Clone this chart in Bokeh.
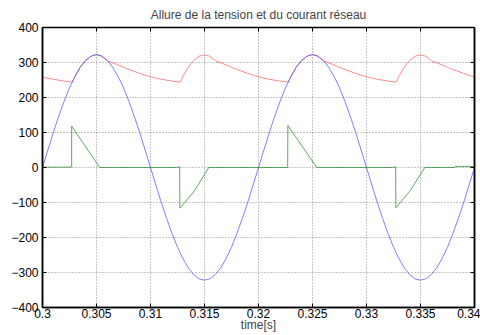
from bokeh.plotting import figure
from bokeh.models import LinearAxis, FixedTicker, Range1d, CustomJSTickFormatter
from bokeh.embed import file_html
from bokeh.resources import INLINE
import numpy as np

# Mains voltage (blue), sampled every 0.5 ms from 0.300 s to 0.340 s
t_grid = np.round(np.linspace(0.300, 0.340, 81), 5)
v_mains = [0, 50, 100, 146, 189, 228, 260, 287, 306, 318, 323, 318, 306, 287, 260, 228, 189, 146, 100, 50,
           0, -50, -100, -146, -189, -228, -260, -287, -306, -318, -322, -318, -306, -287, -260, -228, -189, -146, -100, -50,
           0, 50, 100, 146, 189, 228, 260, 287, 306, 318, 323, 318, 306, 287, 260, 228, 189, 146, 100, 50,
           0, -50, -100, -146, -189, -228, -260, -287, -306, -318, -322, -318, -306, -287, -260, -228, -189, -146, -100, -50,
           0]

# Rectified DC-bus voltage (red)
t_bus = [0.3000, 0.3010, 0.3020, 0.30275, 0.3030, 0.3035, 0.3040, 0.3045, 0.3050, 0.3055,
         0.3060, 0.3070, 0.3080, 0.3090, 0.3100, 0.3110, 0.3120, 0.31275, 0.3130, 0.3135,
         0.3140, 0.3145, 0.3150, 0.3155, 0.3160, 0.3170, 0.3180, 0.3190, 0.3200, 0.3210,
         0.3220, 0.32275, 0.3230, 0.3235, 0.3240, 0.3245, 0.3250, 0.3255, 0.3260, 0.3270,
         0.3280, 0.3290, 0.3300, 0.3310, 0.3320, 0.33275, 0.3330, 0.3335, 0.3340, 0.3345,
         0.3350, 0.3355, 0.3360, 0.3370, 0.3380, 0.3390, 0.3400]
v_bus = [258, 252, 247, 244, 260, 287, 306, 318, 323, 318,
         305, 293, 280, 269, 259, 252, 247, 244, 260, 287,
         306, 318, 322, 318, 305, 293, 280, 269, 259, 252,
         247, 244, 260, 287, 306, 318, 323, 318, 305, 293,
         280, 269, 259, 252, 247, 244, 260, 287, 306, 318,
         322, 318, 305, 293, 280, 269, 258]

# Line current (green)
t_cur = [0.3000, 0.3027, 0.3027, 0.3053, 0.3124, 0.3127, 0.31272, 0.3140, 0.3154,
         0.3227, 0.32272, 0.3254, 0.3324, 0.3327, 0.33272, 0.3340, 0.3354, 0.3382, 0.33822, 0.3400]
i_cur = [1, 1, 118, 0, 0, 2, -116, -70, 0,
         0, 120, 0, 0, 2, -115, -68, 0, 0, 3, 3]

x_ticks = [0.300, 0.305, 0.310, 0.315, 0.320, 0.325, 0.330, 0.335, 0.340]
x_tick_labels = ["0.3", "0.305", "0.31", "0.315", "0.32", "0.325", "0.33", "0.335", "0.34"]
y_ticks = [-400, -300, -200, -100, 0, 100, 200, 300, 400]

FONT = "Liberation Sans"

p = figure(width=480, height=335, output_backend="svg", toolbar_location=None,
           x_range=Range1d(0.300, 0.340), y_range=Range1d(-400, 400),
           min_border_left=42, min_border_right=6, min_border_top=27, min_border_bottom=28,
           x_axis_label="time[s]")
p.background_fill_color = "white"
p.border_fill_color = "white"
p.outline_line_color = "black"
p.outline_line_width = 1.5

p.title.text = "Allure de la tension et du courant réseau"
p.title.align = "center"
p.title.text_font = FONT
p.title.text_font_size = "12px"
p.title.text_font_style = "normal"
p.title.standoff = 11

xa = p.xaxis[0]
xa.ticker = FixedTicker(ticks=x_ticks)
xa.major_label_overrides = {t: s for t, s in zip(x_ticks, x_tick_labels)}
ya = p.yaxis[0]
ya.ticker = FixedTicker(ticks=y_ticks)

for ax in (xa, ya):
    ax.major_tick_in = 4
    ax.major_tick_out = 0
    ax.minor_tick_line_color = None
    ax.axis_line_width = 1.5
    ax.major_label_text_font = FONT
    ax.major_label_text_font_size = "12px"
    ax.major_label_text_color = "black"
    ax.axis_label_text_font = FONT
    ax.axis_label_text_font_size = "12px"
    ax.axis_label_text_font_style = "normal"
xa.major_label_standoff = 1
xa.axis_label_standoff = -3
ya.major_label_standoff = 4

blank = CustomJSTickFormatter(code="return ''")
top = LinearAxis(ticker=FixedTicker(ticks=x_ticks), formatter=blank, major_tick_in=4, major_tick_out=0,
                 minor_tick_line_color=None, major_label_standoff=0, axis_line_width=1)
right = LinearAxis(ticker=FixedTicker(ticks=y_ticks), formatter=blank, major_tick_in=4, major_tick_out=0,
                   minor_tick_line_color=None, major_label_standoff=0, axis_line_width=1.5)
p.add_layout(top, "above")
p.add_layout(right, "right")

for g in (p.xgrid[0], p.ygrid[0]):
    g.grid_line_color = "#8c8c8c"
    g.grid_line_dash = "1 2"
    g.grid_line_width = 1
p.xgrid[0].ticker = FixedTicker(ticks=x_ticks)
p.ygrid[0].ticker = FixedTicker(ticks=y_ticks)

p.line(t_bus, v_bus, line_color="#ff4d4d", line_alpha=0.65, line_width=1)
p.line(list(t_grid), v_mains, line_color="#3c3cff", line_alpha=0.65, line_width=1)
p.line(t_cur, i_cur, line_color="#2e8b2e", line_alpha=0.75, line_width=1)

open("out.html", "w").write(file_html(p, INLINE))
